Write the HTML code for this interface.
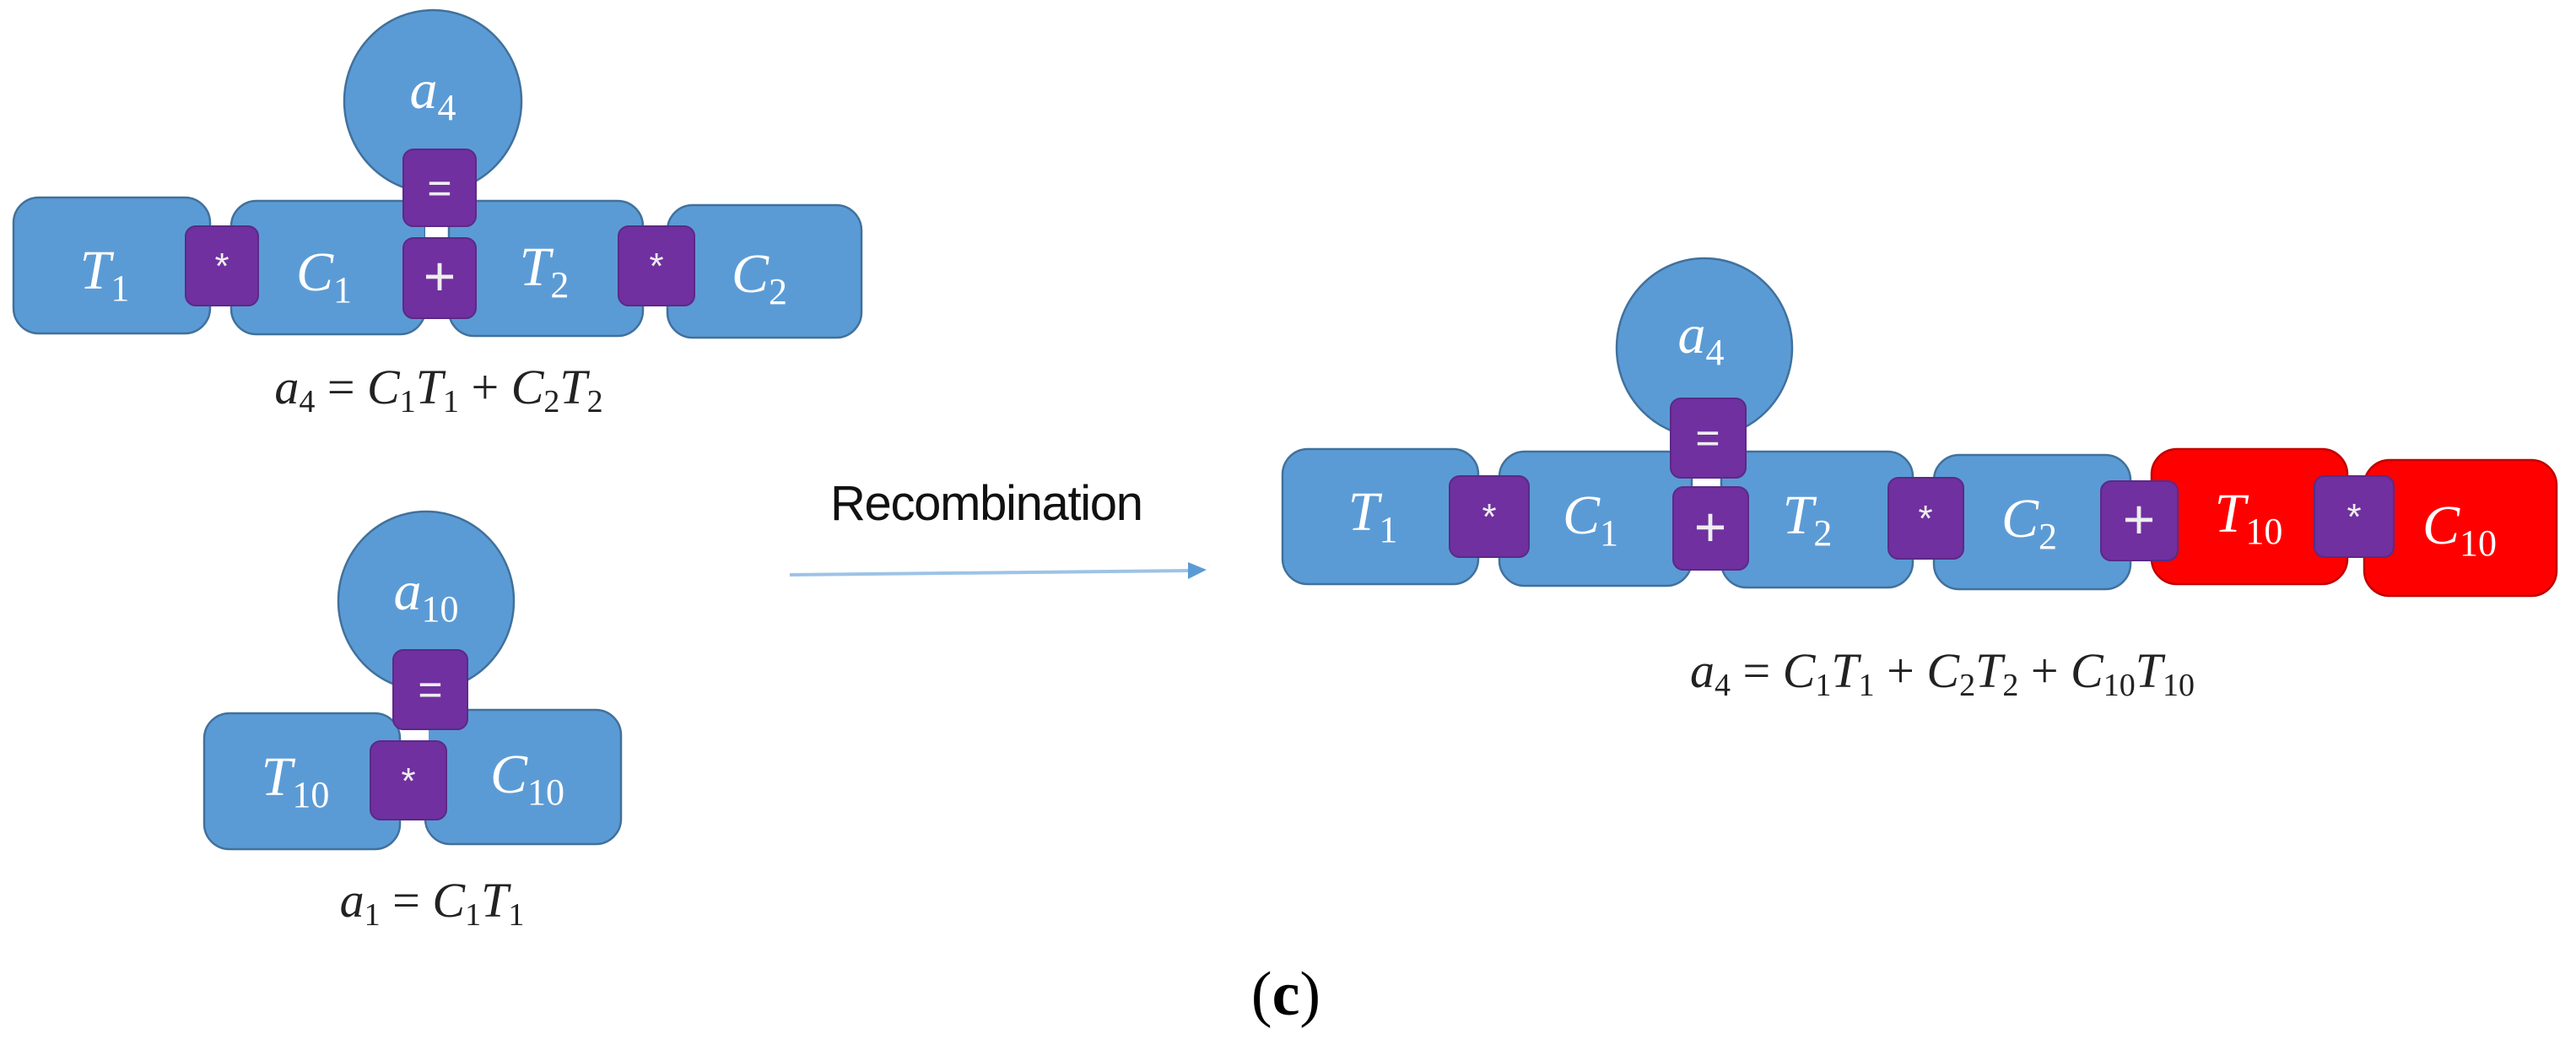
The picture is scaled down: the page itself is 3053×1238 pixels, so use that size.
<!DOCTYPE html>
<html><head><meta charset="utf-8"><style>
html,body{margin:0;padding:0;background:#fff;}
svg{display:block;}
.lb{font-family:"Liberation Serif",serif;font-style:italic;fill:#fff;font-size:66px;}
.eq{font-family:"Liberation Serif",serif;font-style:italic;fill:#222;font-size:58px;}
.op{font-family:"Liberation Sans",sans-serif;fill:#eee;font-size:44px;}
</style></head><body>
<svg width="3053" height="1238" viewBox="0 0 3053 1238" xmlns="http://www.w3.org/2000/svg">
<g stroke="#41719C" stroke-width="2.5" fill="#5B9BD5">
<ellipse cx="513" cy="120" rx="105" ry="108"/>
<rect x="16" y="234" width="233" height="161" rx="30"/>
<rect x="274" y="238" width="230" height="158" rx="30"/>
<rect x="532" y="238" width="230" height="160" rx="30"/>
<rect x="791" y="243" width="230" height="157" rx="30"/>
<ellipse cx="505" cy="712" rx="104" ry="106"/>
<rect x="242" y="845" width="232" height="161" rx="30"/>
<rect x="504" y="841" width="232" height="159" rx="30"/>
<ellipse cx="2020" cy="412" rx="104" ry="106"/>
<rect x="1520" y="532" width="232" height="160" rx="30"/>
<rect x="1777" y="535" width="228" height="159" rx="30"/>
<rect x="2040" y="535" width="227" height="161" rx="30"/>
<rect x="2292" y="539" width="233" height="159" rx="30"/>
<rect x="2550" y="532" width="232" height="160" rx="30" fill="#FF0000" stroke="#C00000"/>
<rect x="2802" y="545" width="228" height="161" rx="30" fill="#FF0000" stroke="#C00000"/>
</g>
<g fill="#fff">
<rect x="504" y="266" width="25" height="18"/>
<rect x="476" y="862" width="32" height="18"/>
<rect x="2016" y="564" width="18" height="15"/>
</g>
<g fill="#7030A0" stroke="#5B2A86" stroke-width="2">
<rect x="478" y="177" width="86" height="91" rx="12"/>
<rect x="478" y="282" width="86" height="95" rx="12"/>
<rect x="220" y="268" width="86" height="94" rx="12"/>
<rect x="733" y="268" width="90" height="94" rx="12"/>
<rect x="466" y="770" width="88" height="94" rx="12"/>
<rect x="439" y="878" width="90" height="93" rx="12"/>
<rect x="1980" y="472" width="89" height="94" rx="12"/>
<rect x="1983" y="577" width="89" height="98" rx="12"/>
<rect x="1718" y="564" width="94" height="96" rx="12"/>
<rect x="2238" y="566" width="89" height="96" rx="12"/>
<rect x="2490" y="570" width="91" height="94" rx="12"/>
<rect x="2743" y="564" width="94" height="96" rx="12"/>
</g>
<g class="op" text-anchor="middle">
<text x="521" y="240" font-size="50">=</text><text x="521" y="350" font-size="66">+</text>
<text x="263" y="330">*</text><text x="778" y="330">*</text>
<text x="510" y="834" font-size="50">=</text><text x="484" y="940">*</text>
<text x="2024" y="536" font-size="50">=</text><text x="2027" y="647" font-size="66">+</text>
<text x="1765" y="627">*</text><text x="2282" y="629">*</text>
<text x="2535" y="638" font-size="66">+</text><text x="2790" y="627">*</text>
</g>
<g class="lb" text-anchor="middle">
<text x="124" y="342">T<tspan font-size="44" dy="14" font-style="normal">1</tspan></text>
<text x="384" y="344">C<tspan font-size="44" dy="14" font-style="normal">1</tspan></text>
<text x="645" y="338">T<tspan font-size="44" dy="14" font-style="normal">2</tspan></text>
<text x="900" y="346">C<tspan font-size="44" dy="14" font-style="normal">2</tspan></text>
<text x="513" y="128">a<tspan font-size="44" dy="14" font-style="normal">4</tspan></text>
<text x="505" y="722">a<tspan font-size="44" dy="14" font-style="normal">10</tspan></text>
<text x="350" y="942">T<tspan font-size="44" dy="14" font-style="normal">10</tspan></text>
<text x="625" y="939">C<tspan font-size="44" dy="14" font-style="normal">10</tspan></text>
<text x="2016" y="418">a<tspan font-size="44" dy="14" font-style="normal">4</tspan></text>
<text x="1627" y="628">T<tspan font-size="44" dy="14" font-style="normal">1</tspan></text>
<text x="1885" y="632">C<tspan font-size="44" dy="14" font-style="normal">1</tspan></text>
<text x="2142" y="632">T<tspan font-size="44" dy="14" font-style="normal">2</tspan></text>
<text x="2405" y="636">C<tspan font-size="44" dy="14" font-style="normal">2</tspan></text>
<text x="2665" y="630">T<tspan font-size="44" dy="14" font-style="normal">10</tspan></text>
<text x="2915" y="644">C<tspan font-size="44" dy="14" font-style="normal">10</tspan></text>
</g>
<g class="eq" text-anchor="middle">
<text x="520" y="478">a<tspan font-size="38" dy="10" font-style="normal">4</tspan><tspan dy="-10" font-style="normal"> = </tspan>C<tspan font-size="38" dy="10" font-style="normal">1</tspan><tspan dy="-10">T</tspan><tspan font-size="38" dy="10" font-style="normal">1</tspan><tspan dy="-10" font-style="normal"> + </tspan>C<tspan font-size="38" dy="10" font-style="normal">2</tspan><tspan dy="-10">T</tspan><tspan font-size="38" dy="10" font-style="normal">2</tspan></text>
<text x="512" y="1086">a<tspan font-size="38" dy="10" font-style="normal">1</tspan><tspan dy="-10" font-style="normal"> = </tspan>C<tspan font-size="38" dy="10" font-style="normal">1</tspan><tspan dy="-10">T</tspan><tspan font-size="38" dy="10" font-style="normal">1</tspan></text>
<text x="2302" y="814">a<tspan font-size="38" dy="10" font-style="normal">4</tspan><tspan dy="-10" font-style="normal"> = </tspan>C<tspan font-size="38" dy="10" font-style="normal">1</tspan><tspan dy="-10">T</tspan><tspan font-size="38" dy="10" font-style="normal">1</tspan><tspan dy="-10" font-style="normal"> + </tspan>C<tspan font-size="38" dy="10" font-style="normal">2</tspan><tspan dy="-10">T</tspan><tspan font-size="38" dy="10" font-style="normal">2</tspan><tspan dy="-10" font-style="normal"> + </tspan>C<tspan font-size="38" dy="10" font-style="normal">10</tspan><tspan dy="-10">T</tspan><tspan font-size="38" dy="10" font-style="normal">10</tspan></text>
</g>
<text x="984" y="616" font-family="Liberation Sans, sans-serif" font-size="58" fill="#111" textLength="371">Recombination</text>
<line x1="936" y1="681" x2="1410" y2="676" stroke="#9DC3E6" stroke-width="4"/>
<polygon points="1408,666 1430,675 1408,686" fill="#5B9BD5"/>
<text x="1524" y="1202" text-anchor="middle" font-family="Liberation Serif, serif" font-size="74" fill="#000">(<tspan font-weight="bold">c</tspan>)</text>
</svg>
</body></html>
